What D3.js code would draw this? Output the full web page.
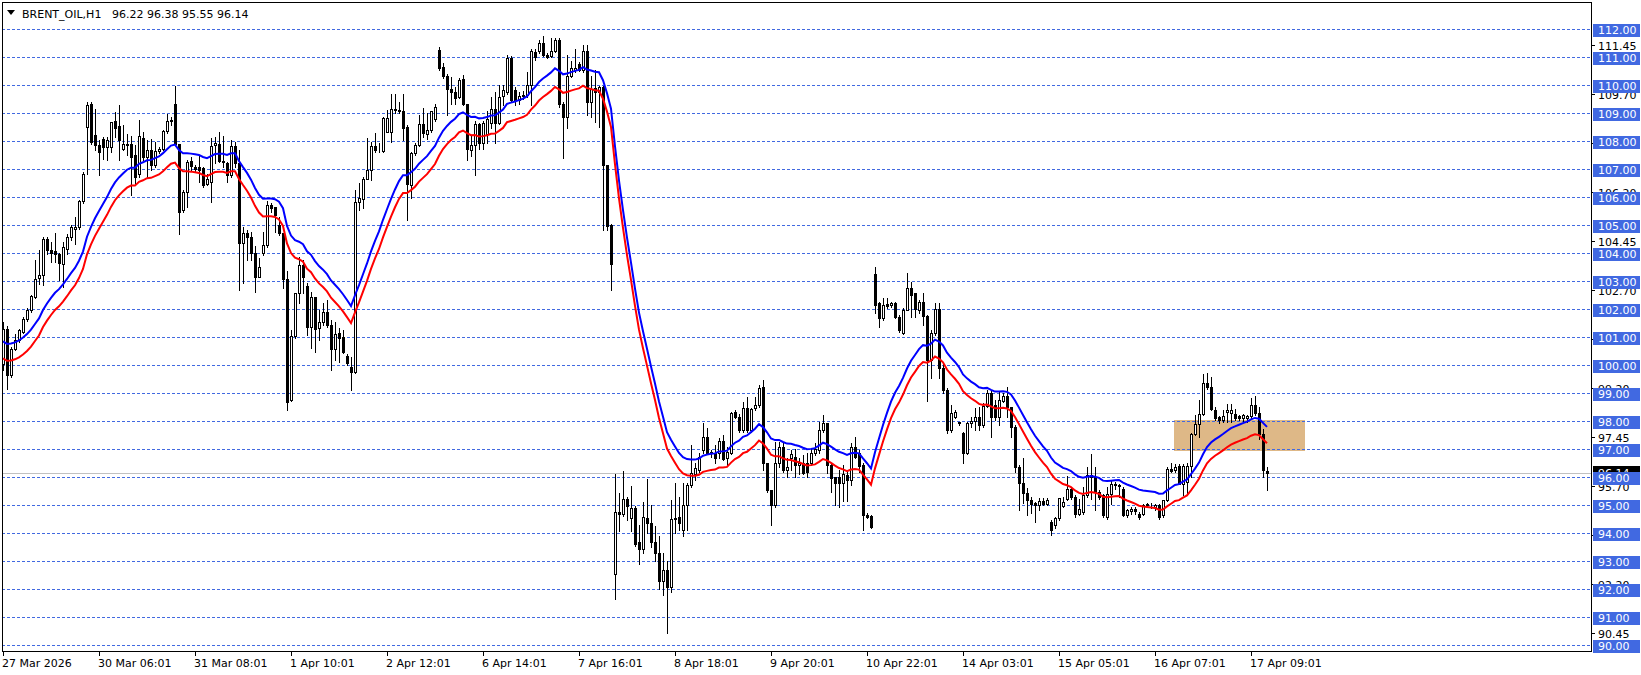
<!DOCTYPE html>
<html><head><meta charset="utf-8">
<script src="https://cdn.jsdelivr.net/npm/d3@7"></script>
<style>
body{margin:0;background:#fff;}
svg{display:block;}
text{font-family:"DejaVu Sans",sans-serif;font-size:11px;}
</style>
</head><body>
<svg id="chart" width="1641" height="675"></svg>
<script>
const symbol = "BRENT_OIL,H1";
const lastQuote = "96.22 96.38 95.55 96.14";

const opens = [100.06,101.31,99.64,100.60,100.89,101.19,101.67,101.96,102.44,103.13,103.21,104.52,104.13,104.10,103.99,103.63,104.17,104.58,104.88,104.94,105.86,108.51,109.35,108.21,107.86,108.10,107.80,107.80,108.71,108.54,107.74,107.86,107.92,107.50,106.85,108.11,107.44,107.70,107.14,107.65,107.74,108.36,108.71,109.35,107.92,105.54,106.19,107.29,107.08,107.08,107.06,106.49,106.55,107.87,107.90,107.30,107.21,106.80,107.83,107.21,104.36,104.71,104.60,104.02,103.17,104.02,104.30,105.73,105.64,105.01,104.71,103.07,98.76,101.05,102.57,103.58,102.83,101.38,102.45,101.32,101.54,101.89,101.44,100.57,101.14,101.02,100.33,99.95,99.77,105.85,105.93,106.64,106.98,107.83,107.65,107.67,108.35,108.35,109.12,109.12,109.08,108.50,106.44,107.57,107.87,108.61,108.27,108.41,108.81,111.27,110.65,110.35,109.88,109.75,109.58,110.22,109.35,107.69,107.87,108.61,107.94,108.27,108.67,109.15,108.67,109.62,109.75,110.96,109.84,109.48,109.62,109.66,110.02,111.19,111.23,111.50,111.10,111.03,111.23,111.63,109.35,108.88,110.35,110.56,110.75,110.56,111.23,109.41,109.90,109.75,109.95,107.16,105.02,92.55,94.76,94.70,95.23,94.56,94.90,93.70,93.45,94.54,94.38,93.70,93.30,92.30,92.70,92.10,94.50,94.60,94.12,95.01,95.73,96.12,96.26,96.98,97.45,96.92,96.86,96.86,97.31,96.68,96.86,98.32,98.17,97.69,98.46,97.69,98.46,98.58,99.21,96.50,95.55,95.01,96.50,97.10,96.26,96.68,96.71,96.44,96.50,96.50,96.50,96.86,96.98,97.69,97.93,96.44,96.00,96.00,95.79,96.08,95.90,97.10,96.86,96.44,94.65,94.62,103.26,102.21,101.68,102.19,102.15,102.21,101.74,101.17,101.98,102.75,102.57,101.98,102.27,101.76,100.19,101.14,102.00,99.89,99.12,97.69,98.17,97.99,97.60,96.86,97.93,98.02,98.17,97.87,98.55,99.02,98.58,98.17,98.74,98.92,98.52,97.81,96.38,95.79,95.45,95.19,95.07,95.01,95.17,95.05,94.42,94.30,94.54,94.98,95.24,95.60,95.30,94.70,94.76,95.36,96.01,96.01,95.48,95.36,94.58,95.42,95.71,95.68,95.60,94.64,94.80,94.88,94.70,94.70,95.00,95.00,94.94,95.00,94.64,95.18,96.31,96.27,96.42,95.77,95.85,96.42,97.56,97.92,98.27,99.37,99.23,98.42,98.15,98.04,98.33,98.30,98.25,98.18,98.13,98.11,98.18,98.57,98.30,97.54,96.22];
const highs = [101.55,101.40,100.65,101.13,101.30,101.73,102.05,102.50,103.77,104.11,104.58,104.58,104.40,104.73,104.00,104.40,104.70,105.00,105.30,105.89,106.90,109.40,109.40,109.17,108.04,108.15,108.15,108.69,109.05,109.29,108.57,108.27,108.18,107.86,108.75,108.33,108.04,108.10,107.98,107.80,108.39,108.99,108.87,109.96,107.92,106.25,107.32,107.44,107.15,107.50,107.08,106.85,108.13,108.17,108.35,108.19,107.27,108.05,107.99,107.69,104.95,104.83,104.77,104.26,103.82,104.77,105.88,105.79,105.67,105.31,104.71,103.38,101.26,102.57,103.88,103.76,102.93,102.63,102.45,101.98,102.21,102.33,101.62,101.56,101.32,101.26,100.40,100.31,106.26,106.50,106.74,108.11,107.99,108.29,107.93,108.86,109.12,109.69,109.69,109.42,109.69,108.58,107.63,107.93,108.94,109.18,109.01,109.10,109.35,111.36,110.78,110.42,110.29,109.95,110.25,110.38,109.35,108.20,108.74,108.67,108.74,109.08,109.58,109.75,110.02,110.02,111.09,111.05,109.95,109.75,109.80,110.49,111.30,111.30,111.63,111.77,111.16,111.70,111.70,111.70,109.41,111.09,110.87,111.30,110.83,111.43,111.43,110.35,110.55,109.98,109.98,107.16,105.05,96.11,95.44,96.24,95.30,95.70,94.97,94.30,95.13,95.93,95.01,94.26,93.90,93.30,93.00,95.19,95.79,95.31,95.79,95.79,97.15,96.50,96.86,97.93,97.75,96.98,97.15,97.39,97.51,97.10,98.35,98.40,98.26,98.70,98.88,98.46,98.88,99.30,99.48,96.50,95.55,97.27,97.27,97.21,96.68,96.98,97.00,96.68,96.80,96.86,97.04,97.21,97.99,98.23,97.93,96.50,96.02,96.26,96.44,96.26,97.21,97.45,96.98,96.50,94.71,94.65,103.52,102.27,102.39,102.39,102.27,102.27,101.80,102.04,103.31,102.99,102.60,102.33,102.60,101.80,101.26,102.24,102.21,100.07,99.18,98.58,98.41,97.99,97.63,97.99,98.17,98.46,98.52,98.64,99.12,99.12,98.76,99.06,99.00,99.24,98.52,97.87,96.44,96.68,95.61,95.31,95.13,95.25,95.25,95.25,94.48,94.60,95.25,95.30,96.04,95.65,95.36,95.24,95.65,96.37,96.85,96.37,95.54,95.42,95.65,95.89,95.83,95.75,95.65,94.88,94.94,94.94,94.76,95.06,95.08,95.10,95.06,95.06,95.20,96.37,96.51,96.49,96.46,96.46,96.50,97.60,98.21,98.77,99.70,99.73,99.58,98.51,98.18,98.39,98.63,98.63,98.45,98.21,98.27,98.21,98.85,98.89,98.51,97.74,96.38];
const lows = [99.85,99.17,99.60,100.54,100.85,101.15,101.60,101.90,102.40,102.92,102.86,103.99,103.69,103.69,103.04,102.80,103.99,104.46,104.35,104.88,105.80,106.85,107.92,107.68,106.79,107.38,107.32,107.62,108.15,107.32,107.68,107.50,106.07,106.43,106.73,107.32,106.73,106.96,107.08,107.60,107.70,108.30,108.57,107.86,104.70,105.48,105.65,106.96,106.90,106.55,106.37,106.43,105.83,107.21,107.27,107.10,106.56,106.74,107.10,102.69,102.93,103.76,103.76,102.63,103.17,103.94,104.24,105.49,104.77,104.65,102.75,98.40,98.74,100.96,102.21,102.57,101.08,100.61,100.49,100.90,101.44,101.38,99.83,100.19,100.13,100.43,100.00,99.12,99.71,105.55,105.61,106.64,106.62,107.63,107.63,107.63,108.35,107.99,109.00,109.00,108.05,105.19,105.96,107.51,107.83,108.14,108.07,108.35,108.74,110.56,110.25,108.94,109.35,109.35,109.55,109.28,107.33,107.46,106.79,107.73,107.73,107.94,108.47,107.94,108.61,109.28,109.68,109.41,109.28,109.35,109.50,109.60,109.28,110.89,111.16,111.03,110.96,111.00,111.19,109.21,107.40,108.47,110.29,110.49,110.52,110.49,108.94,108.88,108.70,108.50,104.84,104.84,102.69,91.67,94.09,94.63,94.49,94.09,93.55,92.90,93.30,94.00,93.50,93.00,92.00,91.80,90.45,91.90,94.00,94.12,93.90,94.12,95.67,95.90,96.20,96.86,96.83,96.74,96.50,96.68,96.62,96.44,96.83,98.11,97.63,97.63,97.63,97.63,98.40,98.52,96.26,95.49,94.30,94.95,96.38,96.20,96.02,96.26,96.02,96.12,96.12,96.02,96.44,96.80,96.86,97.63,96.14,95.49,95.01,94.95,95.17,95.17,95.73,96.68,96.20,94.12,94.54,94.18,101.86,101.38,101.62,102.04,102.10,101.68,101.20,101.12,101.98,101.74,101.74,101.86,101.44,98.74,99.54,101.08,99.54,99.00,97.57,97.63,98.11,97.87,96.50,96.83,97.81,97.69,97.69,97.81,98.52,97.45,98.05,97.87,98.70,98.17,97.45,96.20,94.83,95.07,94.65,94.71,94.42,94.83,95.01,95.01,93.95,94.18,94.48,94.94,95.20,95.24,94.58,94.64,94.70,95.30,95.24,94.82,95.24,94.58,94.52,95.06,95.60,95.30,94.61,94.58,94.70,94.70,94.52,94.64,94.94,94.90,94.82,94.52,94.58,95.15,96.19,96.19,95.75,95.36,95.42,96.00,97.50,97.44,98.21,99.17,98.39,98.04,97.94,97.98,97.98,97.98,98.04,98.04,97.98,97.98,98.10,98.21,97.38,96.01,95.55];
const closes = [101.31,99.64,100.60,100.89,101.25,101.67,101.99,102.46,103.10,103.24,104.52,104.11,104.01,103.99,103.65,104.23,104.58,104.94,104.94,105.86,106.85,109.29,107.98,107.86,107.62,107.80,108.04,108.69,108.48,108.06,107.89,107.92,107.44,106.73,108.18,107.44,107.70,107.14,107.65,107.74,108.36,108.71,108.75,107.92,105.48,106.19,107.26,107.11,107.00,106.96,106.43,106.67,107.82,107.95,107.31,107.25,106.80,107.83,107.21,104.36,104.71,104.60,104.02,103.17,103.50,104.30,105.73,105.61,105.37,104.71,103.07,98.70,101.05,102.57,103.58,103.17,101.38,102.45,101.29,101.54,101.89,101.44,100.57,101.12,100.96,100.49,100.07,99.77,105.85,105.96,106.64,106.98,107.83,107.69,107.67,108.82,108.82,109.14,109.14,109.10,108.46,106.48,107.57,107.87,108.61,108.29,108.41,109.08,109.21,110.62,110.35,109.88,109.75,109.55,110.18,109.35,107.73,107.87,108.61,107.94,108.67,108.81,109.15,108.67,109.58,109.82,110.96,109.48,109.48,109.62,109.66,110.02,111.23,111.00,111.50,111.10,111.00,111.23,111.63,109.35,108.88,110.35,110.62,110.62,110.56,111.23,109.41,109.88,109.75,109.95,107.16,104.98,103.63,94.76,94.70,95.23,94.97,94.90,93.62,93.45,94.60,94.36,93.70,93.30,92.30,92.70,92.10,94.50,94.56,94.36,95.01,95.73,96.17,96.32,96.74,97.45,96.88,96.86,96.68,97.31,96.64,96.89,98.29,98.17,97.69,98.46,97.69,98.43,98.58,99.18,96.50,95.55,95.01,96.50,97.10,96.26,96.38,96.83,96.44,96.50,96.17,96.20,96.86,97.00,97.69,97.93,96.44,95.96,95.79,95.79,96.12,95.90,97.10,96.74,96.40,94.65,94.60,94.24,102.15,101.68,102.15,102.12,102.21,101.74,101.26,101.98,102.75,102.51,102.00,102.27,101.76,100.19,101.14,102.00,99.89,99.12,97.69,98.29,98.35,97.93,96.86,97.93,98.01,98.17,97.87,98.55,99.02,98.17,98.17,98.76,98.92,98.52,97.81,96.38,95.79,95.43,95.19,95.05,95.01,95.17,95.05,95.19,94.12,94.54,95.25,95.12,95.60,95.30,94.70,94.88,95.36,96.07,96.07,95.48,95.30,94.64,95.42,95.75,95.75,95.71,94.64,94.82,94.88,94.80,94.58,95.00,95.04,95.02,95.00,94.58,95.18,96.31,96.23,96.37,95.77,96.39,96.42,97.56,97.92,98.27,99.37,99.23,98.45,98.13,98.04,98.18,98.42,98.39,98.13,98.13,98.21,98.18,98.57,98.30,97.54,96.25,96.14];

const timeLabels = ["27 Mar 2026","30 Mar 06:01","31 Mar 08:01","1 Apr 10:01","2 Apr 12:01","6 Apr 14:01","7 Apr 16:01","8 Apr 18:01","9 Apr 20:01","10 Apr 22:01","14 Apr 03:01","15 Apr 05:01","16 Apr 07:01","17 Apr 09:01"];
const barsPerLabel = 24;
const levelLines = [90,91,92,93,94,95,96,97,98,99,100,101,102,103,104,105,106,107,108,109,110,111,112];
const scaleTicks = [111.45,109.70,107.95,106.20,104.45,102.70,100.95,99.20,97.45,95.70,93.95,92.20,90.45];
const currentPrice = 96.14;
const zoneBars = [292.75, 325.5];
const zonePrices = [96.93, 98.05];
// envelope indicator: EMA of close with upper / lower bands
const maPeriod = 20;
const envDeviationPct = 0.3;
const maStart = 100.55;

// layout
const W = 1641, H = 675;
const plotL = 2, plotR = 1591, plotT = 2, plotB = 651;
const svg = d3.select("#chart");
svg.append("rect").attr("width", W).attr("height", H).attr("fill", "#fff");

const n = closes.length;
const x = d3.scaleLinear().domain([0, n - 1]).range([3, 3 + 4 * (n - 1)]);
const y = d3.scaleLinear().domain([90, 112]).range([645.3, 29.3]);
const px = v => Math.round(x(v));
const py = v => Math.round(y(v));

function ema(vals, period, start) {
  const a = 2 / (period + 1);
  let e = start;
  return vals.map((v, i) => { if (i > 0) e += a * (v - e); return e; });
}
const mid = ema(closes, maPeriod, maStart);
const upper = mid.map(v => v * (1 + envDeviationPct / 100));
const lower = mid.map(v => v * (1 - envDeviationPct / 100));

const g = svg.append("g");

// zone rectangle
g.append("rect")
  .attr("x", px(zoneBars[0])).attr("y", py(zonePrices[1]))
  .attr("width", px(zoneBars[1]) - px(zoneBars[0]))
  .attr("height", py(zonePrices[0]) - py(zonePrices[1]))
  .attr("fill", "#DEB887");

// horizontal level lines
g.selectAll("line.lvl").data(levelLines).enter().append("line")
  .attr("x1", plotL).attr("x2", plotR)
  .attr("y1", d => py(d) + 0.5).attr("y2", d => py(d) + 0.5)
  .attr("stroke", "#4169E1").attr("stroke-width", 1).attr("stroke-dasharray", "3,2");

// current price line
g.append("line").attr("x1", plotL).attr("x2", plotR)
  .attr("y1", py(currentPrice) + 0.5).attr("y2", py(currentPrice) + 0.5)
  .attr("stroke", "#C0C0C0").attr("stroke-width", 1);

// candles
const idx = d3.range(n);
const cg = g.append("g");
cg.selectAll("line.wick").data(idx).enter().append("line")
  .attr("x1", i => px(i) + 0.5).attr("x2", i => px(i) + 0.5)
  .attr("y1", i => py(highs[i])).attr("y2", i => py(lows[i]) + 1)
  .attr("stroke", "#000").attr("stroke-width", 1);
cg.selectAll("rect.body").data(idx).enter().append("rect")
  .attr("x", i => closes[i] >= opens[i] ? px(i) - 0.5 : px(i) - 1)
  .attr("y", i => py(Math.max(opens[i], closes[i])) + (closes[i] >= opens[i] ? 0.5 : 0))
  .attr("width", i => closes[i] >= opens[i] ? 2 : 3)
  .attr("height", i => {
    const h = py(Math.min(opens[i], closes[i])) - py(Math.max(opens[i], closes[i]));
    return closes[i] >= opens[i] ? Math.max(h, 0) : Math.max(h + 1, 1);
  })
  .attr("fill", i => closes[i] >= opens[i] ? "#fff" : "#000")
  .attr("stroke", i => closes[i] >= opens[i] ? "#000" : "none")
  .attr("stroke-width", 1);

// envelope lines
const line = d3.line().x((d, i) => x(i)).y(d => y(d));
g.append("path").datum(upper).attr("d", line).attr("fill", "none")
  .attr("stroke", "#0000FF").attr("stroke-width", 2);
g.append("path").datum(lower).attr("d", line).attr("fill", "none")
  .attr("stroke", "#FF0000").attr("stroke-width", 2);

// frame
svg.append("rect").attr("x", plotL + 0.5).attr("y", plotT + 0.5)
  .attr("width", plotR - plotL).attr("height", plotB - plotT)
  .attr("fill", "none").attr("stroke", "#000").attr("stroke-width", 1);

// right price scale ticks
const ax = svg.append("g");
ax.selectAll("line.st").data(scaleTicks).enter().append("line")
  .attr("x1", plotR).attr("x2", plotR + 4)
  .attr("y1", d => py(d) + 0.5).attr("y2", d => py(d) + 0.5)
  .attr("stroke", "#000");
ax.selectAll("text.st").data(scaleTicks).enter().append("text")
  .attr("x", 1598).attr("y", d => py(d) + 4.5)
  .attr("fill", "#000").text(d => d.toFixed(2));

// current price label
ax.append("rect").attr("x", 1593).attr("y", py(currentPrice) - 7)
  .attr("width", 47).attr("height", 13).attr("fill", "#000");
ax.append("text").attr("x", 1598).attr("y", py(currentPrice) + 4)
  .attr("fill", "#fff").text(currentPrice.toFixed(2));

// level labels
ax.selectAll("rect.lv").data(levelLines).enter().append("rect")
  .attr("x", 1593).attr("y", d => py(d) - 5)
  .attr("width", 47).attr("height", 13).attr("fill", "#4169E1");
ax.selectAll("text.lv").data(levelLines).enter().append("text")
  .attr("x", 1598).attr("y", d => py(d) + 5)
  .attr("fill", "#fff").text(d => d.toFixed(2));

// time axis
const tIdx = timeLabels.map((t, i) => i * barsPerLabel);
ax.selectAll("line.tt").data(tIdx).enter().append("line")
  .attr("x1", i => px(i) + 0.5).attr("x2", i => px(i) + 0.5)
  .attr("y1", plotB).attr("y2", plotB + 5).attr("stroke", "#000");
ax.selectAll("text.tt").data(timeLabels).enter().append("text")
  .attr("x", (d, i) => px(tIdx[i]) - 1).attr("y", 667)
  .attr("fill", "#000").text(d => d);

// title
svg.append("path").attr("d", "M7,10 L15,10 L11,15 Z").attr("fill", "#000");
svg.append("text").attr("x", 22).attr("y", 18).attr("fill", "#000").text(symbol);
svg.append("text").attr("x", 112).attr("y", 18).attr("fill", "#000").text(lastQuote);
</script>
</body></html>
